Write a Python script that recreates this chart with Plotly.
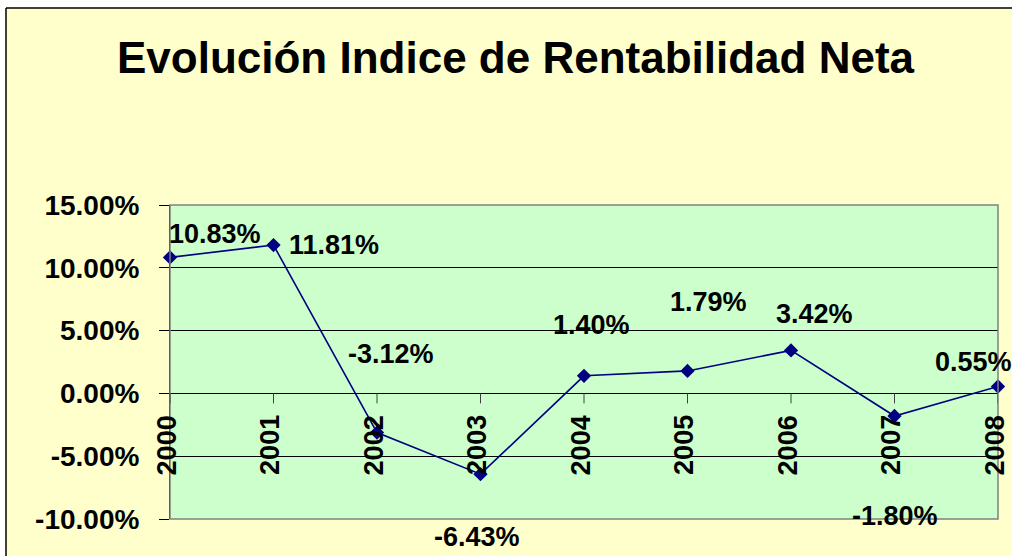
import plotly.graph_objects as go

# data
years = [2000, 2001, 2002, 2003, 2004, 2005, 2006, 2007, 2008]
rentabilidad = [0.1083, 0.1181, -0.0312, -0.0643, 0.0140, 0.0179, 0.0342, -0.0180, 0.0055]
y_ticks = [-0.10, -0.05, 0.0, 0.05, 0.10, 0.15]

title_text = "Evolución Indice de Rentabilidad Neta"

# label offsets in pixels (dx right, dy down) - labels were moved by hand in the original
label_offsets = [(45, -23), (60, 0), (14, -79), (-4, 63), (7, -51),
                 (21, -69), (23, -36), (0, 100), (-25, -24)]

FONT = "Arial, Liberation Sans, sans-serif"
W, H = 1012, 556
L, R, T, B = 170, 998, 205, 519   # plot area in pixels
pw, ph = R - L, B - T


def px_x(p):
    return (p - L) / pw


def px_y(p):
    return (B - p) / ph


fig = go.Figure()
fig.add_trace(go.Scatter(
    x=years, y=rentabilidad, mode="lines+markers",
    line=dict(color="#000080", width=1.6),
    marker=dict(symbol="diamond", size=11, color="#000080"),
    cliponaxis=False, hoverinfo="skip", showlegend=False,
))

annotations = []
for yr, v, (dx, dy) in zip(years, rentabilidad, label_offsets):
    annotations.append(dict(
        x=yr, y=v, xref="x", yref="y", text=f"<b>{v:.2%}</b>", showarrow=False,
        xanchor="center", yanchor="middle", xshift=dx, yshift=-dy,
        font=dict(family=FONT, size=27, color="black"),
    ))
# category labels sit on the zero line, rotated
for yr in years:
    annotations.append(dict(
        x=yr, y=0, xref="x", yref="y", text=f"<b>{yr}</b>", showarrow=False,
        textangle=-90, xanchor="center", yanchor="middle", xshift=-3, yshift=-52,
        font=dict(family=FONT, size=27, color="black"),
    ))
annotations.append(dict(
    x=px_x(516), y=px_y(57), xref="paper", yref="paper", text=f"<b>{title_text}</b>",
    showarrow=False, xanchor="center", yanchor="middle",
    font=dict(family=FONT, size=44, color="black"),
))

shapes = [
    # white page outside the chart's border
    dict(type="rect", xref="paper", yref="paper", x0=px_x(-5), x1=px_x(6),
         y0=px_y(H + 5), y1=px_y(-5), fillcolor="white", line=dict(width=0)),
    dict(type="rect", xref="paper", yref="paper", x0=px_x(-5), x1=px_x(W + 5),
         y0=px_y(8), y1=px_y(-5), fillcolor="white", line=dict(width=0)),
    # outer border of the chart
    dict(type="line", xref="paper", yref="paper", x0=px_x(6), x1=px_x(6),
         y0=px_y(H + 5), y1=px_y(8), line=dict(color="black", width=1.5)),
    dict(type="line", xref="paper", yref="paper", x0=px_x(6), x1=px_x(W + 5),
         y0=px_y(8), y1=px_y(8), line=dict(color="black", width=1.5)),
    # plot area frame
    dict(type="rect", xref="paper", yref="paper", x0=0, x1=1, y0=0, y1=1,
         line=dict(color="#808080", width=1.5)),
]
for yr in years:
    shapes.append(dict(type="line", xref="x", yref="y", x0=yr, x1=yr,
                       ysizemode="pixel", yanchor=0, y0=0, y1=-10,
                       line=dict(color="#404040", width=1)))

fig.update_layout(
    width=W, height=H,
    margin=dict(l=L, r=W - R, t=T, b=H - B, pad=0),
    paper_bgcolor="#FFFFCC",
    plot_bgcolor="#CCFFCC",
    font=dict(family=FONT, color="black"),
    annotations=annotations,
    shapes=shapes,
    xaxis=dict(range=[years[0], years[-1]], showgrid=False, zeroline=False,
               showline=False, showticklabels=False, ticks=""),
    yaxis=dict(range=[-0.10, 0.15], tickvals=y_ticks,
               ticktext=[f"{v:.2%}" for v in y_ticks],
               showgrid=True, gridcolor="black", gridwidth=1,
               zeroline=False, showline=True, linecolor="black", linewidth=1,
               ticks="outside", ticklen=10, tickcolor="black",
               ticklabelstandoff=14,
               tickfont=dict(family=FONT, size=28, color="black", weight="bold")),
)

fig.write_html("out.html", config={"displayModeBar": False},
               post_script="document.body.style.margin='0';")
